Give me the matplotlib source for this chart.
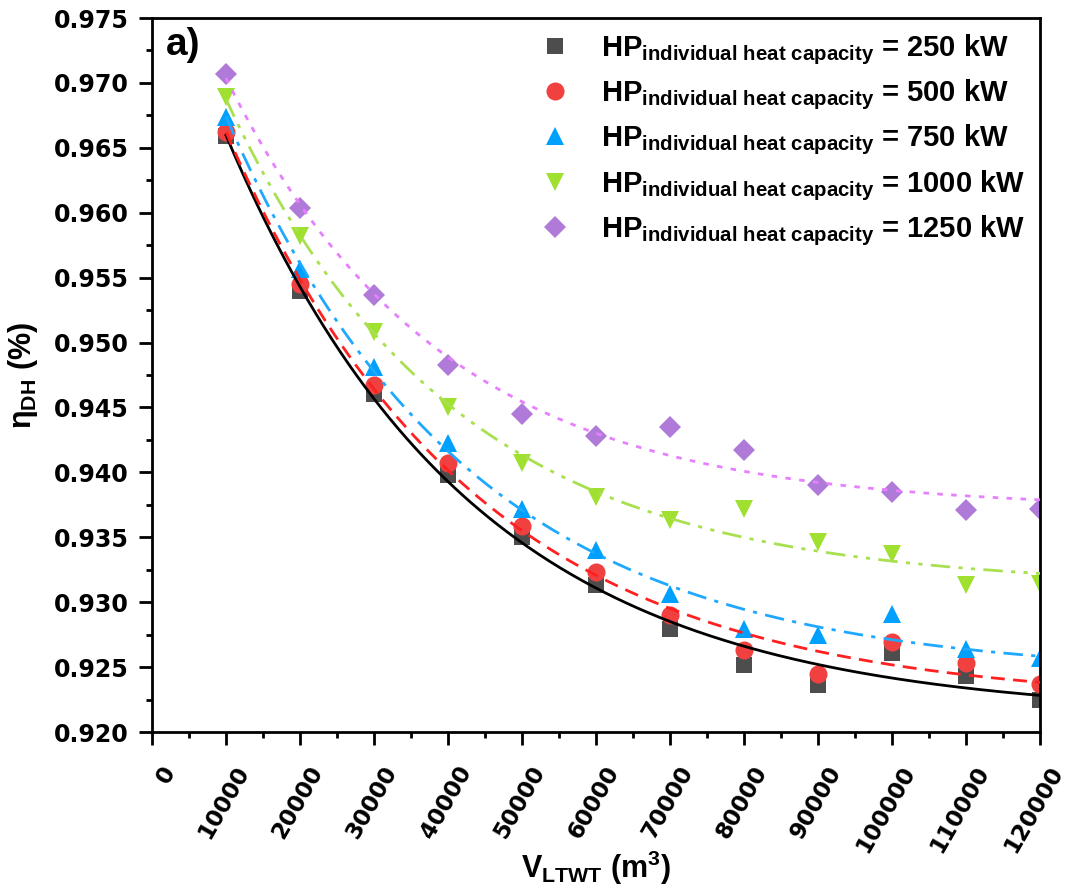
import numpy as np
import matplotlib.pyplot as plt
import matplotlib.transforms as mtransforms
from matplotlib.ticker import MultipleLocator

plt.rcParams['font.family'] = ['Liberation Sans', 'DejaVu Sans']
plt.rcParams['font.weight'] = 'bold'
plt.rcParams['mathtext.fontset'] = 'custom'
plt.rcParams['mathtext.rm'] = 'Liberation Sans:bold'
plt.rcParams['mathtext.it'] = 'Liberation Sans:bold'
plt.rcParams['mathtext.bf'] = 'Liberation Sans:bold'

# tank volume (m3)
volume = [10000, 20000, 30000, 40000, 50000, 60000,
          70000, 80000, 90000, 100000, 110000, 120000]

# DH efficiency per HP individual heat capacity
eta_250 = [0.9659, 0.9540, 0.9460, 0.9398, 0.9350, 0.9313,
           0.9279, 0.9252, 0.9236, 0.9261, 0.9243, 0.9225]
eta_500 = [0.9662, 0.9545, 0.9467, 0.9407, 0.9359, 0.9323,
           0.9290, 0.9263, 0.9245, 0.9269, 0.9253, 0.9237]
eta_750 = [0.9674, 0.9557, 0.9481, 0.9423, 0.9372, 0.9340,
           0.9306, 0.9279, 0.9275, 0.9291, 0.9264, 0.9257]
eta_1000 = [0.9689, 0.9582, 0.9508, 0.9450, 0.9407, 0.9381,
            0.9363, 0.9372, 0.9346, 0.9337, 0.9313, 0.9314]
eta_1250 = [0.9707, 0.9604, 0.9537, 0.9483, 0.9445, 0.9428,
            0.9435, 0.9417, 0.9390, 0.9385, 0.9371, 0.9372]

capacities = ['250', '500', '750', '1000', '1250']
series = [eta_250, eta_500, eta_750, eta_1000, eta_1250]
markers = ['s', 'o', '^', 'v', 'D']
marker_sizes = [11, 13, 13, 13, 11]
marker_colors = ['#4d4d4d', '#f04040', '#00a0ff', '#a0e030', '#b07ad8']
line_colors = ['black', '#ff2020', '#20a8ff', '#a8e050', '#e680ff']
line_styles = ['-', (0, (5, 3)), (0, (7, 3, 1.5, 3)), (0, (7, 3, 1.5, 3, 1.5, 3)), (0, (2, 3))]


def exp_fit(x, y):
    # y = y0 + A*exp(-x/t), grid over t with linear least squares
    x = np.asarray(x, float)
    y = np.asarray(y, float)
    best = None
    for t in np.linspace(5000, 200000, 2000):
        M = np.column_stack([np.ones_like(x), np.exp(-x / t)])
        coef = np.linalg.lstsq(M, y, rcond=None)[0]
        err = np.sum((M @ coef - y) ** 2)
        if best is None or err < best[0]:
            best = (err, coef, t)
    _, coef, t = best
    return lambda xx: coef[0] + coef[1] * np.exp(-xx / t)


fig = plt.figure(figsize=(10.68, 8.89), dpi=100)
ax = fig.add_axes([0.1423, 0.1766, 0.8315, 0.8031])

xs = np.linspace(volume[0], volume[-1], 300)
for i, y in enumerate(series):
    f = exp_fit(volume, y)
    ax.plot(xs, f(xs), color=line_colors[i], linestyle=line_styles[i], lw=2, zorder=3)
for i, y in enumerate(series):
    label = r'$\mathregular{HP_{individual\ heat\ capacity}}$ = ' + capacities[i] + ' kW'
    ax.plot(volume, y, linestyle='none', marker=markers[i], ms=marker_sizes[i],
            color=marker_colors[i], markeredgewidth=0, label=label, zorder=2)

ax.set_xlim(0, 120000)
ax.set_ylim(0.920, 0.975)
ax.set_xticks(np.arange(0, 120001, 10000))
ax.xaxis.set_minor_locator(MultipleLocator(5000))
ax.yaxis.set_major_locator(MultipleLocator(0.005))
ax.yaxis.set_minor_locator(MultipleLocator(0.0025))
ax.yaxis.set_major_formatter(plt.FormatStrFormatter('%.3f'))
ax.tick_params(which='major', direction='out', length=9.5, width=2)
ax.tick_params(which='minor', direction='out', length=4.5, width=2)
ax.tick_params(axis='y', which='major', pad=7)
ax.tick_params(axis='x', which='major', pad=16)

tick_font = dict(family='DejaVu Sans', weight='bold')
offset = mtransforms.ScaledTranslation(0.18, 0, fig.dpi_scale_trans)
for lbl in ax.get_xticklabels():
    lbl.set_fontproperties(tick_font)
    lbl.set_fontsize(16.5)
    lbl.set_rotation(60)
    lbl.set_rotation_mode('anchor')
    lbl.set_ha('right')
    lbl.set_va('center')
    lbl.set_transform(lbl.get_transform() + offset)
for lbl in ax.get_yticklabels():
    lbl.set_fontproperties(tick_font)
    lbl.set_fontsize(17)
for s in ax.spines.values():
    s.set_linewidth(2)

ax.set_xlabel(r'V$_{\mathregular{LTWT}}$ (m$^{\mathregular{3}}$)', fontsize=22,
              fontweight='bold')
ax.xaxis.set_label_coords(0.5, -0.163)
ax.set_ylabel(r'$\mathregular{\eta_{DH}}$ (%)', fontsize=22,
              fontweight='bold', labelpad=10)
ax.text(0.016, 0.988, 'a)', transform=ax.transAxes, fontsize=28, fontweight='bold',
        va='top', ha='left')

ax.legend(loc='upper right', frameon=False, fontsize=21, handletextpad=0.6,
          labelspacing=0.36, borderaxespad=0.1, markerscale=1.0)

fig.savefig('out.png', dpi=100)
